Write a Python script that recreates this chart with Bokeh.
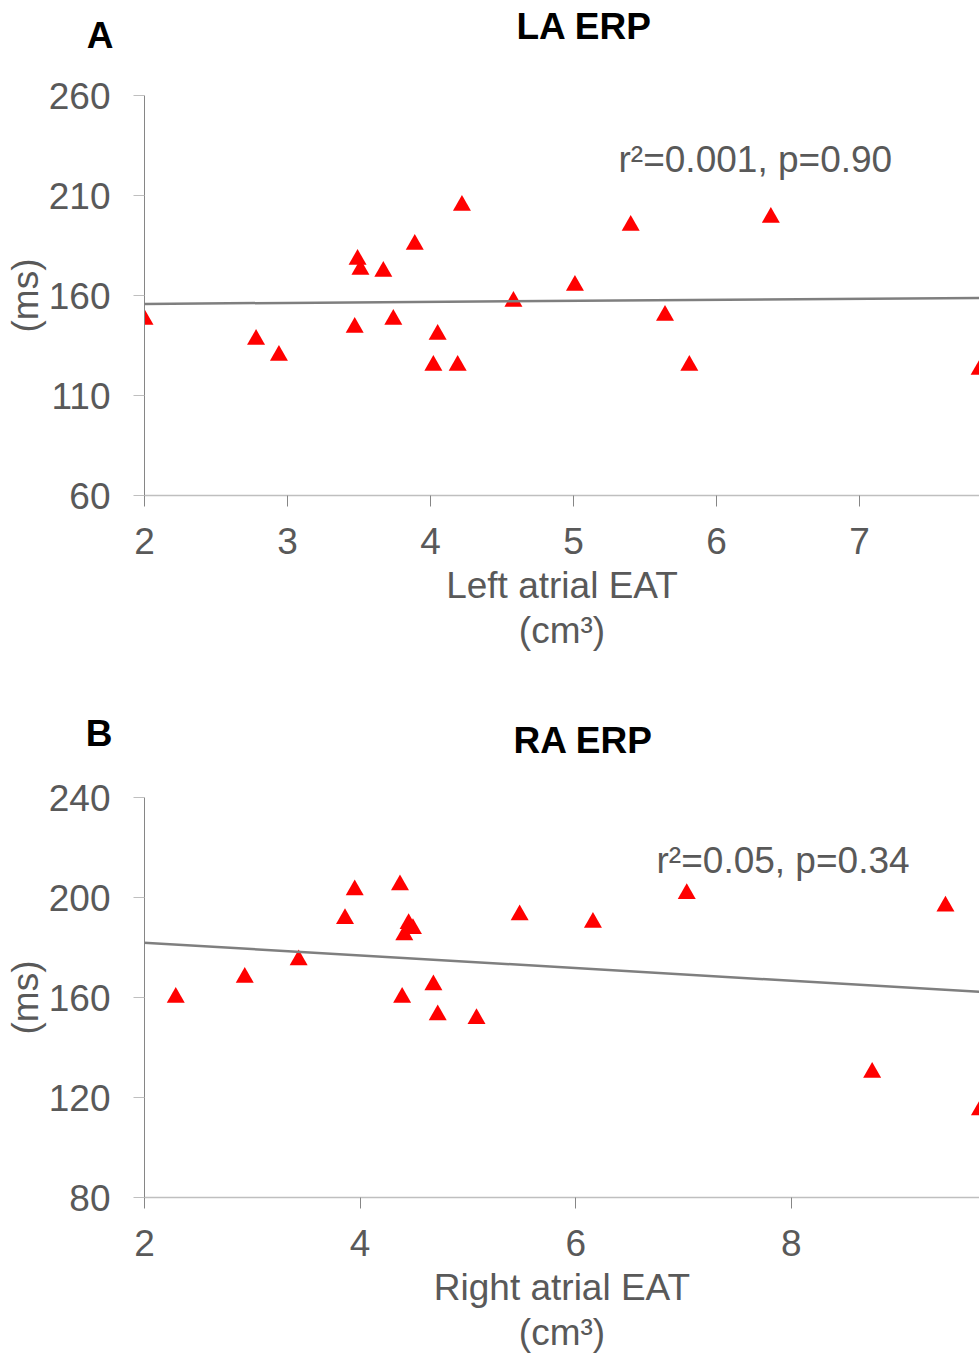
from bokeh.plotting import figure
from bokeh.layouts import column
from bokeh.models import Label, Slope, FixedTicker
from bokeh.embed import file_html
from bokeh.resources import INLINE

# ---------------- data ----------------
la_eat = [2.00, 2.78, 2.94, 3.49, 3.51, 3.67, 3.89, 3.47, 3.74, 4.05,
          4.02, 4.19, 4.22, 4.58, 5.01, 5.40, 5.64, 5.81, 6.38, 7.84]
la_erp = [148, 138, 130, 178, 173, 172, 185.5, 144, 148, 140.5,
          125, 125, 205, 157, 165, 195, 150, 125, 199, 123]
la_fit_intercept = 154.8
la_fit_slope = 0.50
la_stats = "r²=0.001, p=0.90"
la_xticks = [2, 3, 4, 5, 6, 7]
la_yticks = [60, 110, 160, 210, 260]

ra_eat = [2.29, 2.93, 3.43, 3.86, 3.95, 4.37, 4.45, 4.49, 4.41, 4.39,
          4.68, 4.72, 5.08, 5.48, 6.16, 7.03, 9.43, 8.75, 9.75]
ra_erp = [160, 168, 175, 191.5, 203, 205, 189.5, 187.5, 185, 160,
          165, 153, 151.5, 193, 190, 201.5, 196.5, 130, 115]
ra_fit_intercept = 187.0
ra_fit_slope = -2.54
ra_stats = "r²=0.05, p=0.34"
ra_xticks = [2, 4, 6, 8]
ra_yticks = [80, 120, 160, 200, 240]

FONT = "Liberation Sans"
GRAY_TXT = "#595959"
W = 979
LEFT = 144


def make_header(height, top_pad, letter, letter_standoff, title, title_pos):
    fh = height - top_pad
    h = figure(frame_width=W - LEFT, frame_height=fh,
               x_range=(LEFT, W), y_range=(0, fh),
               x_axis_location=None, y_axis_location="left",
               min_border_left=LEFT, min_border_right=0,
               min_border_top=top_pad, min_border_bottom=0,
               output_backend="svg", toolbar_location=None)
    h.outline_line_color = None
    h.grid.visible = False
    ya = h.yaxis[0]
    ya.ticker = FixedTicker(ticks=[])
    ya.axis_line_color = None
    ya.major_tick_line_color = None
    ya.minor_tick_line_color = None
    ya.major_tick_out = 0
    ya.major_tick_in = 0
    ya.major_label_standoff = 0
    ya.axis_label = letter
    ya.axis_label_orientation = "horizontal"
    ya.axis_label_standoff = letter_standoff
    ya.axis_label_text_font = FONT
    ya.axis_label_text_font_size = "37px"
    ya.axis_label_text_font_style = "bold"
    ya.axis_label_text_color = "black"
    h.add_layout(Label(x=title_pos[0], y=title_pos[1], text=title,
                       text_font=FONT, text_font_size="37px",
                       text_font_style="bold", text_color="black",
                       text_baseline="alphabetic"))
    return h


def make_panel(xs, ys, x_range, y_range, xticks, yticks, xlabel,
               stats, stats_pos, intercept, slope, bottom_border):
    p = figure(frame_width=W - LEFT, frame_height=400,
               x_range=x_range, y_range=y_range,
               min_border_left=LEFT, min_border_right=0,
               min_border_top=25, min_border_bottom=bottom_border,
               output_backend="svg", toolbar_location=None)
    p.outline_line_color = None
    p.xgrid.visible = False
    p.ygrid.visible = False

    p.add_layout(Slope(gradient=slope, y_intercept=intercept,
                       line_color="#7F7F7F", line_width=2.5))
    p.scatter(xs, ys, marker="triangle", size=18, fill_color="#FF0000",
              line_color="#FF0000", line_width=0)

    xa = p.xaxis[0]
    xa.ticker = FixedTicker(ticks=xticks)
    xa.axis_line_color = "#BFBFBF"
    xa.axis_line_width = 1.5
    xa.major_tick_line_color = "#868686"
    xa.major_tick_in = 0
    xa.major_tick_out = 11
    xa.minor_tick_line_color = None
    xa.major_label_text_font = FONT
    xa.major_label_text_font_size = "37px"
    xa.major_label_text_color = GRAY_TXT
    xa.major_label_standoff = 21
    xa.axis_label = xlabel
    xa.axis_label_text_font = FONT
    xa.axis_label_text_font_size = "37px"
    xa.axis_label_text_font_style = "normal"
    xa.axis_label_text_color = GRAY_TXT
    xa.axis_label_text_line_height = 1.12
    xa.axis_label_standoff = 8

    ya = p.yaxis[0]
    ya.ticker = FixedTicker(ticks=yticks)
    ya.axis_line_color = "#868686"
    ya.axis_line_width = 1
    ya.major_tick_line_color = "#BFBFBF"
    ya.major_tick_in = 0
    ya.major_tick_out = 11
    ya.minor_tick_line_color = None
    ya.major_label_text_font = FONT
    ya.major_label_text_font_size = "37px"
    ya.major_label_text_color = GRAY_TXT
    ya.major_label_standoff = 23
    ya.axis_label = "(ms)"
    ya.axis_label_text_font = FONT
    ya.axis_label_text_font_size = "37px"
    ya.axis_label_text_font_style = "normal"
    ya.axis_label_text_color = GRAY_TXT
    ya.axis_label_standoff = 0

    p.add_layout(Label(x=stats_pos[0], y=stats_pos[1], text=stats,
                       text_font=FONT, text_font_size="37px",
                       text_color=GRAY_TXT, text_baseline="alphabetic"))
    return p


hA = make_header(70, 0, "A", 31, "LA ERP", (516, 44))
pA = make_panel(la_eat, la_erp, (2, 2 + 835 / 143), (60, 260), la_xticks, la_yticks,
                "Left atrial EAT\n(cm³)", la_stats, (5.315, 228),
                la_fit_intercept, la_fit_slope, 185)

hB = make_header(92, 13, "B", 32, "RA ERP", (513, 32))
pB = make_panel(ra_eat, ra_erp, (2, 2 + 835 / 107.8), (80, 240), ra_xticks, ra_yticks,
                "Right atrial EAT\n(cm³)", ra_stats, (6.75, 214.8),
                ra_fit_intercept, ra_fit_slope, 161)

layout = column(hA, pA, hB, pB, spacing=0)

with open("out.html", "w") as f:
    f.write(file_html(layout, INLINE))
